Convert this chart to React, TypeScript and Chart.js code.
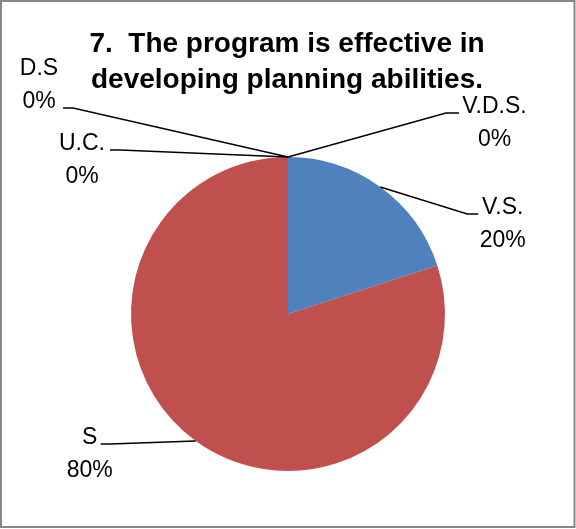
import { useEffect, useRef } from 'react';
import { Chart, registerables } from 'chart.js';

Chart.register(...registerables);

// ---- data ----
const categories = ['V.S.', 'S', 'U.C.', 'D.S', 'V.D.S.'];
const values = [20, 80, 0, 0, 0];
const titleLines = ['7.  The program is effective in', 'developing planning abilities.'];
const sliceColors = ['#4F81BD', '#C0504D', '#9BBB59', '#8064A2', '#4BACC6'];

// ---- label styling (offsets relative to each slice's outer anchor point) ----
const labelLayout = [
  { elbow: [87, 27], end: [98, 27], text: [122.5, 27] }, // V.S.
  { elbow: [-86, 3], end: [-95, 3], text: [-106, 3] }, // S
  { elbow: [-168, -7], end: [-178, -7], text: [-206, -7] }, // U.C.
  { elbow: [-215, -49], end: [-225, -49], text: [-249, -82] }, // D.S
  { elbow: [158, -44], end: [171, -44], text: [206.5, -44] }, // V.D.S.
];

const W = 576;
const H = 529;
const LABEL_FONT = '23px "Liberation Sans", Arial, sans-serif';
const TITLE_FONT = 'bold 28px "Liberation Sans", Arial, sans-serif';
const LABEL_GAP = 33;
const TITLE_BASELINE = 52;
const TITLE_GAP = 36;

export default function App() {
  const ref = useRef<HTMLCanvasElement>(null);

  useEffect(() => {
    if (!ref.current) return;
    const total = values.reduce((a, b) => a + b, 0);

    const overlay = {
      id: 'overlay',
      afterDraw(chart: any) {
        const ctx = chart.ctx as CanvasRenderingContext2D;
        ctx.save();
        // frame
        ctx.strokeStyle = '#878787';
        ctx.lineWidth = 2;
        ctx.strokeRect(1, 1, W - 2.5, H - 3);
        // title
        ctx.fillStyle = '#000';
        ctx.font = TITLE_FONT;
        ctx.textAlign = 'center';
        ctx.textBaseline = 'alphabetic';
        titleLines.forEach((t, i) => ctx.fillText(t, chart.width / 2 - 1, TITLE_BASELINE + i * TITLE_GAP));
        // labels + leaders
        const meta = chart.getDatasetMeta(0);
        meta.data.forEach((arc: any, i: number) => {
          const p = arc.getProps(['x', 'y', 'startAngle', 'endAngle', 'outerRadius'], true);
          const mid = (p.startAngle + p.endAngle) / 2;
          const ax = p.x + p.outerRadius * Math.cos(mid);
          const ay = p.y + p.outerRadius * Math.sin(mid);
          const L = labelLayout[i];
          ctx.strokeStyle = '#000';
          ctx.lineWidth = 1.5;
          ctx.beginPath();
          ctx.moveTo(ax, ay);
          ctx.lineTo(ax + L.elbow[0], ay + L.elbow[1]);
          ctx.lineTo(ax + L.end[0], ay + L.end[1]);
          ctx.stroke();
          ctx.font = LABEL_FONT;
          ctx.fillStyle = '#000';
          ctx.textAlign = 'center';
          const pct = Math.round((values[i] / total) * 100) + '%';
          ctx.fillText(categories[i], ax + L.text[0], ay + L.text[1]);
          ctx.fillText(pct, ax + L.text[0], ay + L.text[1] + LABEL_GAP);
        });
        ctx.restore();
      },
    };

    const chart = new Chart(ref.current, {
      type: 'pie',
      data: {
        labels: categories,
        datasets: [
          {
            data: values,
            backgroundColor: sliceColors,
            borderWidth: 0,
            hoverOffset: 0,
          },
        ],
      },
      options: {
        responsive: false,
        animation: false,
        events: [],
        layout: { padding: { left: 131, right: 131, top: 157, bottom: 58 } },
        plugins: {
          legend: { display: false },
          tooltip: { enabled: false },
          title: { display: false },
        },
      },
      plugins: [overlay],
    });
    return () => chart.destroy();
  }, []);

  return (
    <div style={{ position: 'fixed', left: 0, top: 0, width: W, height: H, background: '#fff' }}>
      <canvas ref={ref} width={W} height={H} style={{ display: 'block' }} />
    </div>
  );
}
